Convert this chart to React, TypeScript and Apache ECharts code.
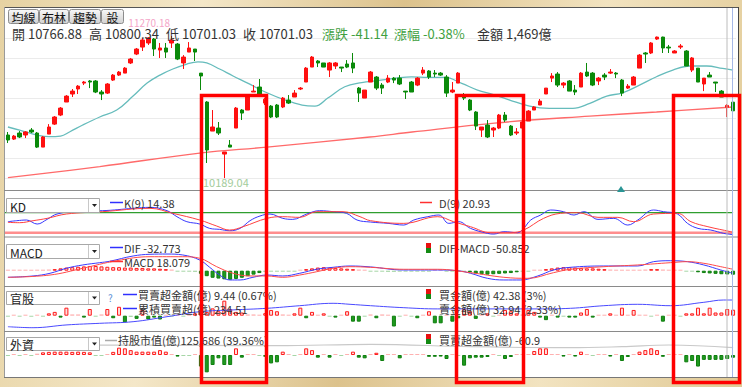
import React, { useEffect, useRef } from "react";
import * as echarts from "echarts";

const FONT = "'Noto Sans CJK TC', 'Noto Sans', sans-serif";

// daily candles: [open, close, low, high]
const candles: number[][] = [
  [10517, 10479, 10456, 10540], [10486, 10509, 10479, 10517], [10532, 10502, 10494, 10547], [10517, 10540, 10494, 10547],
  [10555, 10540, 10532, 10570], [10532, 10425, 10418, 10540], [10425, 10502, 10425, 10509], [10524, 10578, 10524, 10600],
  [10600, 10654, 10593, 10661], [10669, 10722, 10661, 10730], [10768, 10813, 10768, 10821], [10829, 10851, 10806, 10867],
  [10867, 10889, 10829, 10897], [10912, 10920, 10897, 10928], [10928, 10920, 10874, 10935], [10928, 10844, 10836, 10935],
  [10844, 10829, 10783, 10859], [10836, 10905, 10829, 10912], [10935, 10973, 10928, 10981], [10973, 10996, 10966, 11004],
  [10988, 11026, 10988, 11034], [11065, 11095, 11057, 11103], [11133, 11171, 11125, 11179], [11186, 11240, 11156, 11255],
  [11217, 11255, 11202, 11262], [11247, 11171, 11118, 11255], [11163, 11179, 11103, 11217], [11179, 11148, 11103, 11217],
  [11217, 11240, 11179, 11270.18], [11209, 11095, 11087, 11217], [11065, 11110, 11019, 11125], [11148, 11179, 11148, 11224],
  [11171, 11148, 11080, 11171], [10988, 10966, 10859, 10988], [10768, 10403, 10304, 10775], [10547, 10578, 10547, 10707],
  [10570, 10532, 10517, 10616], [10372, 10388, 10189.04, 10388], [10441, 10425, 10425, 10479], [10570, 10722, 10570, 10730],
  [10707, 10684, 10631, 10714], [10707, 10806, 10707, 10813], [10844, 10851, 10844, 10897], [10882, 10813, 10806, 10943],
  [10760, 10790, 10745, 10800], [10737, 10654, 10646, 10745], [10745, 10654, 10646, 10753], [10730, 10798, 10722, 10806],
  [10783, 10760, 10753, 10821], [10806, 10836, 10806, 10859], [10867, 10874, 10859, 10882], [10920, 11026, 10920, 11034],
  [11034, 11110, 11034, 11118], [11080, 11065, 11034, 11087], [11065, 11034, 11034, 11065], [11011, 11065, 10958, 11072],
  [11042, 11065, 11019, 11072], [11034, 11026, 10996, 11034], [11057, 11034, 11026, 11087], [11065, 11026, 10988, 11141],
  [10874, 10836, 10768, 10882], [10798, 10859, 10798, 10859], [10920, 10996, 10920, 11004], [10958, 10874, 10859, 10966],
  [10897, 10874, 10829, 10912], [10920, 10950, 10912, 10973], [10950, 10935, 10912, 10958], [10950, 10905, 10897, 10973],
  [10851, 10844, 10791, 10851], [10920, 10844, 10844, 10928], [10897, 10950, 10889, 10958], [10988, 11011, 10973, 11034],
  [11004, 10958, 10943, 11011], [10988, 10981, 10958, 11011], [10988, 10973, 10966, 10996], [10958, 10836, 10806, 10973],
  [10844, 10859, 10836, 10920], [10912, 10988, 10912, 10996], [10821, 10798, 10783, 10836], [10783, 10707, 10699, 10791],
  [10692, 10585, 10555, 10699], [10555, 10578, 10502, 10578], [10593, 10502, 10494, 10631], [10555, 10570, 10502, 10578],
  [10570, 10669, 10562, 10677], [10669, 10631, 10616, 10692], [10585, 10517, 10509, 10593], [10532, 10540, 10517, 10570],
  [10570, 10616, 10562, 10631], [10623, 10699, 10623, 10707], [10707, 10730, 10707, 10737], [10745, 10775, 10745, 10791],
  [10829, 10874, 10829, 10874], [10950, 10966, 10920, 10988], [10981, 10897, 10882, 10996], [10897, 10912, 10874, 10920],
  [10928, 10851, 10851, 10935], [10859, 10844, 10821, 10897], [10882, 10988, 10882, 10996], [10996, 10966, 10958, 11065],
  [10988, 10897, 10889, 10996], [10928, 10950, 10897, 10958], [10973, 10958, 10935, 10988], [10988, 10996, 10981, 11019],
  [10988, 10981, 10950, 10996], [10935, 10836, 10813, 10943], [10874, 10889, 10867, 10905], [10897, 10958, 10897, 10966],
  [11026, 11125, 11026, 11133], [11141, 11133, 11065, 11148], [11141, 11217, 11133, 11224], [11247, 11262, 11240, 11266],
  [11262, 11179, 11141, 11265], [11186, 11179, 11141, 11202], [11141, 11156, 11141, 11163], [11186, 11194, 11171, 11209],
  [11156, 11042, 11042, 11163], [11011, 11103, 10996, 11110], [11026, 10920, 10920, 11026], [10905, 10950, 10851, 10950],
  [10973, 10958, 10958, 10996], [10920, 10912, 10844, 10920], [10851, 10806, 10806, 10859], [10728, 10742.17, 10654, 10752],
  [10766.88, 10701.03, 10701.03, 10800.34],
];
const days = candles.map((_, i) => `D${i + 1}`);

// moving averages: [day index, price]
const maShort: number[][] = [
  [0, 10578], [2, 10555], [5, 10517], [7, 10504], [9, 10509], [10.6, 10542], [12.8, 10593], [15.7, 10654],
  [18.6, 10707], [21.4, 10813], [23.8, 10912], [26, 10973], [28.2, 11019], [30.6, 11057], [32.5, 11074], [34, 11065],
  [36.2, 11019], [38.5, 10966], [41, 10912], [43.9, 10846], [47.4, 10783], [50.3, 10745], [52.5, 10737], [54.7, 10798],
  [57.6, 10884], [60.5, 10915], [63.2, 10930], [66.2, 10948], [69, 10960], [71.8, 10955], [74.7, 10955], [77.6, 10910],
  [80.3, 10859], [83, 10825], [85.8, 10783], [89.2, 10737], [92.6, 10720], [96.6, 10720], [99.5, 10758], [102.4, 10813],
  [105.1, 10838], [108, 10897], [110.9, 10960], [113.7, 11011], [116.6, 11042], [119.5, 11042], [122.2, 11024], [124, 11011],
];
const maLong: number[][] = [
  [0, 10193], [15.7, 10277], [32.8, 10380], [44.3, 10425], [61.9, 10502], [69.1, 10540], [83.2, 10608], [99.5, 10661],
  [110.9, 10692], [124, 10730],
];

// KD
const kLine: number[][] = [
  [0, 53], [1.5, 56], [3.2, 58], [5, 46], [6.7, 60], [8.4, 76], [12.3, 85], [16.2, 86], [21.4, 93], [24.3, 96],
  [27.2, 86], [28.9, 68], [30.6, 53], [32.8, 46], [34.5, 33], [36.2, 30], [37.9, 26], [39.7, 33], [41.4, 56], [43.1, 70],
  [44.8, 76], [47, 63], [48.7, 60], [51.1, 76], [53.3, 86], [55.6, 83], [57.9, 78], [59.7, 58], [62, 52], [65, 48],
  [67.7, 43], [69.4, 58], [71.8, 68], [73.7, 73], [75.4, 48], [77.1, 53], [79.1, 33], [82, 18], [83.1, 16], [84.8, 23],
  [87.2, 20], [88.2, 33], [89.4, 58], [91.1, 73], [92.8, 88], [95, 83], [96.8, 73], [98.5, 83], [100.9, 60], [103.6, 63],
  [106, 43], [107.7, 58], [110.4, 88], [112.1, 83], [114.5, 76], [116.2, 48], [118, 33], [120.2, 28], [122.4, 18], [124, 14.38],
];
const dLine: number[][] = [
  [0, 51], [2, 50], [4.3, 56], [6.7, 63], [10, 76], [16.2, 83], [24.3, 93], [28.2, 78], [32.8, 58], [35.7, 40],
  [37.9, 28], [40.2, 38], [44.3, 63], [47, 68], [49.9, 66], [52.8, 83], [57.3, 83], [60.2, 68], [62, 56], [67.7, 48],
  [73.5, 68], [76.2, 53], [79.1, 38], [82.6, 20], [86, 20], [88.2, 28], [91.6, 63], [94.5, 78], [97.4, 80], [100.9, 66],
  [104.3, 66], [107, 53], [110.4, 76], [114.5, 78], [116.8, 53], [119.7, 38], [123.6, 23], [124, 20.93],
];

// MACD
const difLine: number[][] = [
  [0, -84], [4.3, -67], [7.2, -33], [10, 31], [12.8, 73], [15.7, 102], [17.4, 120], [21.4, 187], [24.3, 209], [27.2, 212],
  [29.9, 200], [32.8, 136], [34.5, 43], [36.2, -55], [37.9, -118], [39.7, -118], [41.9, -84], [44.3, -55], [47, -67],
  [49.9, -33], [52.8, 18], [55.6, 43], [58.5, 60], [62, 48], [67.7, 9], [73.5, 9], [76.9, 0], [79.1, -33], [82, -97],
  [84.8, -118], [87.7, -118], [90.6, -67], [93.3, 9], [96.2, 43], [101.9, 60], [107.7, 60], [110.4, 115], [113.3, 127],
  [116.2, 115], [119, 73], [121.9, 9], [124, -32.773],
];
const signalLine: number[][] = [
  [0, -84], [7.2, -55], [12.8, 31], [18.6, 127], [24.3, 178], [29.9, 178], [32.8, 158], [35.7, 51], [38.5, -33],
  [41.4, -67], [44.3, -67], [47, -84], [49.9, -55], [52.8, -13], [55.6, 31], [58.5, 51], [62, 43], [67.7, 18], [73.5, 18],
  [79.1, -25], [84.8, -84], [88.9, -97], [93.3, -25], [96.2, 18], [101.9, 51], [107.7, 73], [113.3, 102], [116.2, 115],
  [119, 94], [121.9, 51], [124, 18.079],
];
const macdHist: number[] = [
  5, 8, 5, 8, 5, 10, 8,
  15,
  20, 30, 40, 45, 50, 55, 60, 60, 55,
  50, 45, 45, 40, 40, 35, 35, 30, 30, 25, 20, 15,
  -5, -8, -10, -15,
  -40, -70, -90, -100, -110, -115, -105, -90, -70, -50, -30, -15,
  -10, -8, -5, -5, -3,
  10, 20, 30, 40, 45, 40, 35, 30, 25, 20, 15, 10,
  -5, -10, -12, -15, -15, -12, -10, -8, -5,
  -3, -3, 3, 3, -3, -5, -8, -12,
  -20, -35, -45, -50, -45, -40, -35, -30, -20,
  -10, -5, 5, 10,
  20, 30, 40, 45, 45, 40, 35, 30, 30, 25, 20, 15, 12,
  10, 10, 8, 10, 15, 20, 20, 15, 10, 8, 5,
  -5, -10, -20, -30, -35, -40, -45, -48, -50.852,
];

// 官股 net buy (億) and cumulative
const govNet: number[] = [
  -1, 1, -1, 1, -1, 1, -1.5,
  3.7, 6, -3, 12.6, 2, 2, -3, 10.5, -1.6, 2, 10.5, -4, 14, -10.5, -2, -5, 9, -6, -3, -6,
  1, -1, 1, -1, 1,
  3.7, 9, 6, 11.5, 7, 23.6, 10.5, 6, 5, 2, 2, 1, 4, 9, 7, 2, 1, 3.7, 12.6, -4, 6, 1, 3.7, -1, -3, 1, 7, -9.4, -9.4, -1, 2,
  -4, 2, 1, -17, -1, 1, -1, -4, 1, 7, -12, -12, 1, -9.4, -4, 10.5, 7, -5, 1, 3.7, -1, 1, 9, 7, 3.7, 2, 9, 6, -3, -7, 1,
  -3, -1, -3, -3, 5, 10.5, -3, 1, 1, 3.7, 1, 12.6, 1, 9, 1, 1, -1, 1, -9.4, 1, 1, -1.6, 3.7, 3.7, 12.6, 3.7, 12.6, 5, 5,
  10.5, 9.44,
];
const govCum: number[][] = [
  [0, 101], [4.3, 96], [10.1, 110], [15.7, 118], [21.4, 126], [27.2, 151], [32.8, 176], [38.5, 185], [44.3, 193],
  [49.9, 206], [55.6, 218], [58.5, 213], [62, 206], [67.7, 196], [73.5, 190], [79.1, 190], [84.8, 190], [90.6, 190],
  [96.2, 193], [101.9, 206], [107.7, 213], [113.3, 206], [119, 223], [122.4, 234.51], [124, 234.51],
];

// 外資 net buy (億) and holdings value
const foreignNet: number[] = [
  -10, 10, -10, 10, -10,
  30, 60, 70, 75, 75, 75, 70, 75, 70, 60,
  -20, -5, 10, 70, 165, 150, 110, 75, 75, 75, 75, 110, 75, 20, -35, -5, -10, 5,
  -260, -390, -225, -75, -225, -225, 150, -60, 5, 5, -10, -40, -190, -165, 75, 5, -10, 5, 150, 110, -60, 5, -60, 5, -10,
  5, 75, -60, -75, 5,
  50, -135, 5, 10, -75, 5, 5, 15, 5, -40, -40, -35, -90, 5, -10, -240, -75, -60, -60, -45, 5, -10, -90, -45, 5, 5, 5,
  90, 150, 150, 5, 10, -35, 5, -35, 75, 5, -5, 5, 5, -35, 5, -135, -45, 5, 75, 110, 150, 110, -40, 5, 5, 5, -165, -135,
  -260, -110, -110, -110, -110, -90, -60.9,
];
const foreignHold: number[][] = [
  [0, 125900], [16.6, 125956], [46, 125886], [62, 126026], [79, 125786], [96, 125686], [105, 125786], [113, 125956],
  [124, 125686],
];

const RED = "#ff1010";
const GREEN = "#0a8a0a";

function barItems(vals: number[], faint: number) {
  return vals.map((v) => {
    let itemStyle: any;
    if (Math.abs(v) < faint) itemStyle = { color: v >= 0 ? "#ffb0b0" : "#a6d6a6", borderWidth: 0 };
    else if (v >= 0) itemStyle = { color: "#ffdcdc", borderColor: "#ff1a1a", borderWidth: 1 };
    else itemStyle = { color: "#1f9a1f", borderColor: "#0e7e0e", borderWidth: 1 };
    return { value: v, itemStyle };
  });
}

const T = (x: number, y: number, text: string, fill = "#333", size = 11, align = "left") => ({
  type: "text",
  x,
  y,
  z: 60,
  style: {
    text, fill, font: `${size}px ${FONT}`, lineHeight: Math.round(size * 1.1),
    align, verticalAlign: "middle", textAlign: align, textVerticalAlign: "middle",
  },
});
const L = (x1: number, y1: number, x2: number, y2: number, stroke: string, lineWidth = 1, z = 55) => ({
  type: "line",
  z,
  shape: { x1, y1, x2, y2 },
  style: { stroke, lineWidth },
});
const R = (x: number, y: number, width: number, height: number, style: any, z = 55) => ({
  type: "rect",
  z,
  shape: { x, y, width, height },
  style,
});

function dropBox(top: number, h: number, label: string) {
  return [
    R(6.5, top + 0.5, 93, h, { fill: "#fff", stroke: "#a8a8a8", lineWidth: 1 }, 58),
    L(88.5, top + 1, 88.5, top + h, "#c8c8c8", 1, 59),
    { type: "polygon", z: 60, shape: { points: [[92, top + h / 2 - 1], [97, top + h / 2 - 1], [94.5, top + h / 2 + 2]] }, style: { fill: "#222" } },
    T(10, top + h / 2 + 1, label, "#222", 12),
  ];
}
function pairIcon(x: number, top: number) {
  return [R(x, top, 5, 5, { fill: "#e81010" }, 60), R(x, top + 5, 5, 5, { fill: "#138a13" }, 60)];
}

function buildOption() {
  const btnFill = new echarts.graphic.LinearGradient(0, 0, 0, 1, [
    { offset: 0, color: "#f8f8f8" },
    { offset: 1, color: "#d2d2d2" },
  ]);
  const buttons: any[] = [];
  ([[8, 30, "均線"], [39, 29, "布林"], [69, 31, "趨勢"], [101, 22, "設"]] as any[]).forEach(([x, w, s]) => {
    buttons.push({ type: "rect", z: 58, shape: { x: x + 0.5, y: 9.5, width: w, height: 14, r: 2 }, style: { fill: btnFill, stroke: "#8c8c8c" } });
    buttons.push(T(x + w / 2 + 0.5, 17, s, "#111", 12, "center"));
  });

  const graphic: any[] = [
    // frame
    L(4, 7.5, 739, 7.5, "#555"),
    L(4.5, 7, 4.5, 378, "#9a9a9a"),
    L(738.5, 7, 738.5, 378, "#444"),
    L(4, 377.5, 739, 377.5, "#777"),
    L(4, 190.5, 738, 190.5, "#8a8a8a"),
    L(4, 237, 738, 237, "#8a8a8a"),
    L(4, 286.5, 738, 286.5, "#8a8a8a"),
    L(4, 331.5, 738, 331.5, "#8a8a8a"),
    L(727, 8, 727, 377, "#bcbcbc"),
    L(732.5, 8, 732.5, 377, "#a6b8e6"),
    ...buttons,
    // header
    T(12, 33, "開 10766.88", "#333", 13),
    T(89, 33, "高 10800.34", "#333", 13),
    T(166, 33, "低 10701.03", "#333", 13),
    T(243, 33, "收 10701.03", "#333", 13),
    T(322, 33, "漲跌 -41.14", "#3f9f3f", 13),
    T(394, 33, "漲幅 -0.38%", "#3f9f3f", 13),
    T(477, 33, "金額 1,469億", "#333", 13),
    T(170, 22.5, "11270.18", "#f4a6c8", 10, "right"),
    T(203, 182, "10189.04", "#a3cc9b", 11),
    { type: "polygon", z: 60, shape: { points: [[617, 192], [621, 186], [625, 192]] }, style: { fill: "#2a9595" } },
    // KD
    ...dropBox(198, 14, "KD"),
    L(110, 202.5, 123, 202.5, "#3030ff", 1.5),
    T(124, 203, "K(9) 14.38"),
    L(420, 202.5, 432, 202.5, "#ff3030", 1.5),
    T(439, 203, "D(9) 20.93"),
    // MACD
    ...dropBox(244, 14, "MACD"),
    L(110, 247.5, 123, 247.5, "#3030ff", 1.5),
    T(124, 248, "DIF -32.773"),
    L(110, 261.5, 123, 261.5, "#ff3030", 1.5),
    T(124, 262, "MACD 18.079"),
    ...pairIcon(426, 243),
    T(439, 248, "DIF-MACD -50.852"),
    // 官股
    ...dropBox(291, 13, "官股"),
    T(108, 297, "?", "#5b8fd6", 10),
    L(123, 294.5, 137, 294.5, "#3030ff", 1.5),
    T(138, 294.5, "買賣超金額(億) 9.44 (0.67%)"),
    L(123, 308.5, 137, 308.5, "#3030ff", 1.5),
    T(138, 308.5, "累積買賣超(億) 234.51"),
    ...pairIcon(426, 289),
    T(439, 294.5, "買金額(億) 42.38 (3%)"),
    T(439, 308.5, "賣金額(億) 32.94 (2.33%)"),
    // 外資
    ...dropBox(337, 13, "外資"),
    L(105, 340.5, 117, 340.5, "#aaaaaa", 1.5),
    T(118, 340, "持股市值(億)125,686 (39.36%)"),
    ...pairIcon(426, 334),
    T(439, 339.5, "買賣超金額(億) -60.9"),
    // highlight boxes
    R(201.5, 95.5, 65, 287, { fill: "none", stroke: "#ff0000", lineWidth: 3.5 }, 70),
    R(456.5, 95.5, 67, 287, { fill: "none", stroke: "#ff0000", lineWidth: 3.5 }, 70),
    R(673.5, 95.5, 66, 287, { fill: "none", stroke: "#ff0000", lineWidth: 3.5 }, 70),
  ];

  const grids = [
    { top: 38, height: 140 },
    { top: 206, height: 33.4 },
    { top: 240, height: 46 },
    { top: 290, height: 40 },
    { top: 335, height: 41 },
  ].map((g) => ({ left: 5, right: 6, ...g }));

  const xAxis: any[] = [];
  grids.forEach((_, g) => {
    xAxis.push({ type: "category", gridIndex: g, data: days, show: false });
    xAxis.push({ type: "value", gridIndex: g, min: -0.5, max: 124.5, show: false });
  });

  const hidden = { show: false };
  const yAxis: any[] = [
    { type: "value", gridIndex: 0, min: 10190, max: 11255, ...hidden },
    {
      type: "value", gridIndex: 0, min: 0, max: 7, interval: 1,
      axisLine: { show: false }, axisTick: { show: false }, axisLabel: { show: false },
      splitLine: { show: true, lineStyle: { color: "#ebebeb", width: 1 } },
    },
    { type: "value", gridIndex: 1, min: 0, max: 100, ...hidden },
    { type: "value", gridIndex: 2, min: -194.7, max: 390.6, ...hidden },
    { type: "value", gridIndex: 3, min: -22.5, max: 40.4, ...hidden },
    { type: "value", gridIndex: 3, min: 84.51, max: 284.51, ...hidden },
    { type: "value", gridIndex: 4, min: -472.5, max: 450, ...hidden },
    { type: "value", gridIndex: 4, min: 122856, max: 126956, ...hidden },
  ];

  const line = (name: string, xi: number, yi: number, data: number[][], color: string, width = 1, smooth: any = 0.4, z = 4) => ({
    name, type: "line", xAxisIndex: xi, yAxisIndex: yi, data, smooth, symbol: "none", z,
    lineStyle: { color, width }, emphasis: { disabled: true },
  });
  const bars = (name: string, xi: number, yi: number, data: any[]) => ({
    name, type: "bar", xAxisIndex: xi, yAxisIndex: yi, data, barWidth: 4, barMinHeight: 1, z: 3,
    emphasis: { disabled: true },
  });

  return {
    animation: false,
    backgroundColor: "transparent",
    grid: grids,
    xAxis,
    yAxis,
    graphic,
    series: [
      {
        name: "K", type: "candlestick", xAxisIndex: 0, yAxisIndex: 0, data: candles, barWidth: 4, clip: false, z: 5,
        itemStyle: { color: RED, color0: GREEN, borderColor: RED, borderColor0: GREEN, borderWidth: 1 },
      },
      line("MA20", 1, 0, maShort, "#66bcbc", 1.3, 0.4, 4),
      line("MA120", 1, 0, maLong, "#ff6a6a", 1.3, 0.4, 4),
      line("L80", 3, 2, [[-0.5, 80], [124, 80]], "#2f9e2f", 1.3, false, 3),
      line("L20", 3, 2, [[-0.5, 20], [124, 20]], "#ff8e8e", 2.4, false, 3),
      line("Kline", 3, 2, kLine, "#3737ff", 1, 0.4, 5),
      line("Dline", 3, 2, dLine, "#ff4040", 1, 0.4, 5),
      bars("hist", 4, 3, barItems(macdHist, 19)),
      line("DIF", 5, 3, difLine, "#3a3aff", 1, 0.4, 5),
      line("MACD", 5, 3, signalLine, "#ff4a4a", 1, 0.4, 5),
      bars("gov", 6, 4, barItems(govNet, 2.4)),
      line("govCum", 7, 5, govCum, "#4a4aff", 1, 0.4, 5),
      bars("foreign", 8, 6, barItems(foreignNet, 34)),
      line("hold", 9, 7, foreignHold, "#c9c9c9", 1.2, 0.4, 2),
    ],
  };
}

export default function App() {
  const ref = useRef<HTMLDivElement>(null);
  useEffect(() => {
    if (!ref.current) return;
    const chart = echarts.init(ref.current, null, { renderer: "svg" });
    chart.setOption(buildOption() as any);
    return () => chart.dispose();
  }, []);
  return (
    <div
      style={{
        position: "fixed", left: 0, top: 0, width: 742, height: 387, overflow: "hidden",
        background: "linear-gradient(100deg, #e6d2a2 0%, #f4e7c8 25%, #dcc28c 50%, #f2e3c0 75%, #e0c994 100%)",
      }}
    >
      <div style={{ position: "absolute", left: 4, top: 7, width: 735, height: 371, background: "#fff" }} />
      <div ref={ref} style={{ position: "absolute", left: 0, top: 0, width: 742, height: 387 }} />
    </div>
  );
}
